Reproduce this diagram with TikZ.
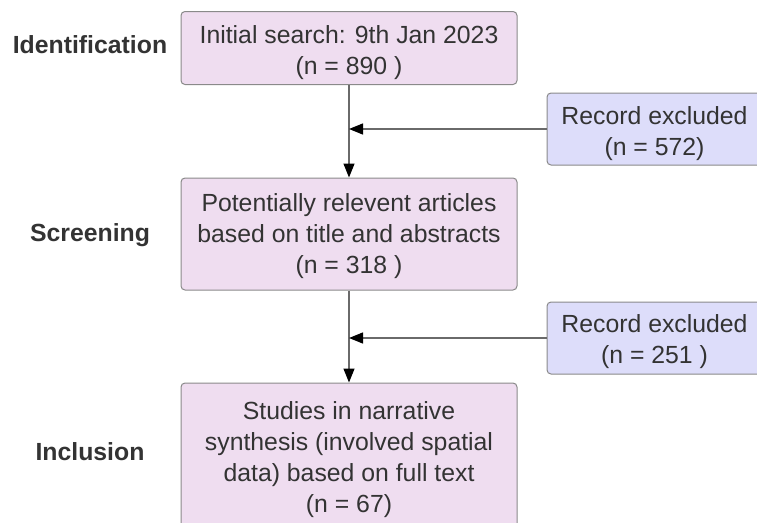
\documentclass[tikz,border=0pt]{standalone}
\usepackage{fontspec}
\setmainfont{Liberation Sans}
\usetikzlibrary{arrows.meta}
\definecolor{pinkfill}{HTML}{EFDDF0}
\definecolor{bluefill}{HTML}{DDDDFA}
\definecolor{edgegray}{HTML}{8A8A8A}
\definecolor{linegray}{HTML}{6A6A6A}
\definecolor{txt}{HTML}{333333}
\tikzset{
  x=1pt, y=-1pt,
  mainbox/.style={draw=edgegray, line width=1pt, fill=pinkfill, rounded corners=4pt,
    minimum width=336pt, inner sep=0pt},
  sidebox/.style={draw=edgegray, line width=1pt, fill=bluefill, rounded corners=4pt,
    minimum width=215pt, minimum height=72pt, inner sep=0pt},
  boxtext/.style={align=center, text=txt, inner sep=0pt,
    font=\fontsize{24.8}{31}\selectfont},
  stage/.style={text=txt, font=\fontsize{24.8}{31}\selectfont\bfseries},
  flow/.style={draw=linegray, line width=1.3pt,
    -{Triangle[length=14pt,width=11pt,color=black]}}
}
\begin{document}
\begin{tikzpicture}
\useasboundingbox (0,0) rectangle (757,522);
\node[mainbox, minimum height=73pt] (init) at (349,48) {};
\node[mainbox, minimum height=112pt] (screen) at (349,234) {};
\node[mainbox, minimum height=150pt] (incl) at (349,458) {};
\node[sidebox] (ex1) at (654.5,129) {};
\node[sidebox] (ex2) at (654.5,338) {};
\node[boxtext, yshift=-4.5pt] (initT) at (init) {Initial search: 9th Jan 2023\\(n = 890 )};
\node[boxtext, yshift=-2pt] (screenT) at (screen) {Potentially relevent articles\\based on title and abstracts\\(n = 318 )};
\node[boxtext, yshift=-2pt] (inclT) at (incl) {Studies in narrative\\synthesis (involved spatial\\data) based on full text\\(n = 67)};
\node[boxtext, yshift=-5pt] (ex1T) at (ex1) {Record excluded\\(n = 572)};
\node[boxtext, yshift=-4pt] (ex2T) at (ex2) {Record excluded\\(n = 251 )};
\node[stage] (l1) at (90,45) {Identification};
\node[stage] (l2) at (90,235) {Screening};
\node[stage] (l3) at (90,452) {Inclusion};
\draw[flow] (init.south) -- (screen.north);
\draw[flow] (screen.south) -- (incl.north);
\draw[flow] (ex1.west) -- (ex1.west -| init.south);
\draw[flow] (ex2.west) -- (ex2.west -| screen.south);
\end{tikzpicture}
\end{document}
